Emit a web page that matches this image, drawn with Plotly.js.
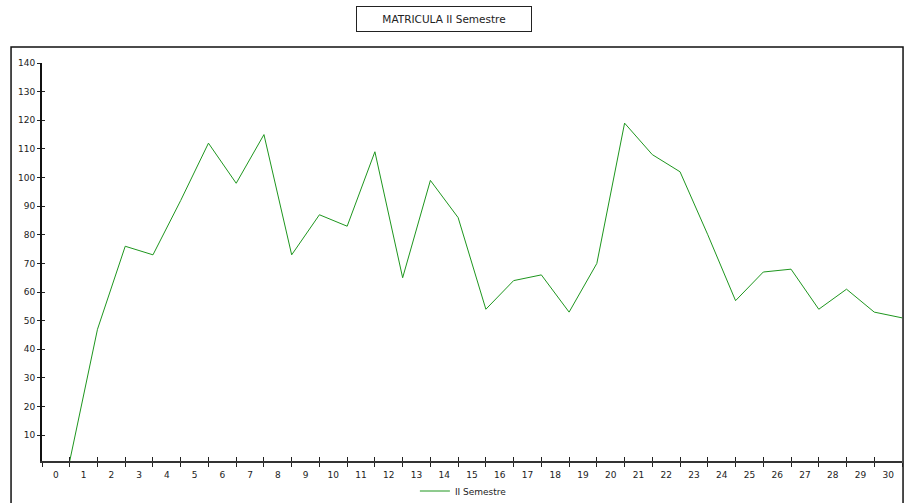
<!DOCTYPE html>
<html>
<head>
<meta charset="utf-8">
<script src="https://cdn.plot.ly/plotly-3.0.1.min.js"></script>
<style>
  html, body { margin: 0; padding: 0; background: #fff; }
  #chart { width: 904px; height: 503px; }
</style>
</head>
<body>
<div id="chart"></div>
<script>
// Día del semestre (etiquetas del eje X)
const dias = [0,1,2,3,4,5,6,7,8,9,10,11,12,13,14,15,16,17,18,19,20,21,22,23,24,25,26,27,28,29,30];
// Matrícula registrada por día
const matricula = [1,47,76,73,92,112,98,115,73,87,83,109,65,99,86,54,64,66,53,70,119,108,102,80,57,67,68,54,61,53,51];
const nombreSerie = "II Semestre";
const tituloGrafico = "MATRICULA II Semestre";
const marcasY = [10,20,30,40,50,60,70,80,90,100,110,120,130,140];

const fuente = "DejaVu Sans, Verdana, sans-serif";
const tinta = "#222";

// Each point sits on the boundary that closes its day's label cell
const xPuntos = dias.map(d => d + 0.5);
const bordes = dias.map(d => d - 0.5).concat([dias[dias.length - 1] + 0.5]);
const rangoX = [bordes[0], bordes[bordes.length - 1]];
const rangoY = [1, 140];

const trazas = [
  {
    x: xPuntos, y: matricula, type: "scatter", mode: "lines",
    name: nombreSerie,
    line: { color: "#1e961e", width: 1 },
    xaxis: "x", yaxis: "y", hoverinfo: "x+y", cliponaxis: false
  },
  { x: [], y: [], xaxis: "x2", yaxis: "y", showlegend: false, hoverinfo: "skip" },
  { x: [], y: [], xaxis: "x3", yaxis: "y", showlegend: false, hoverinfo: "skip" },
  { x: [], y: [], xaxis: "x", yaxis: "y2", showlegend: false, hoverinfo: "skip" }
];

const ejeXBase = {
  range: rangoX, showgrid: false, zeroline: false, fixedrange: true
};

const layout = {
  width: 904, height: 503,
  margin: { l: 42, r: 2, t: 63, b: 42, pad: 0 },
  paper_bgcolor: "#fff", plot_bgcolor: "#fff",
  font: { family: fuente, size: 9, color: tinta },
  showlegend: true,
  legend: {
    orientation: "h", x: 0.49, xanchor: "center",
    yref: "container", y: (503 - 491) / 503, yanchor: "middle",
    font: { family: fuente, size: 9, color: tinta }, itemwidth: 30,
    bgcolor: "rgba(0,0,0,0)"
  },
  // boundary ticks below the axis line, with the axis line itself
  xaxis: Object.assign({}, ejeXBase, {
    tickmode: "array", tickvals: bordes, showticklabels: false,
    ticks: "outside", ticklen: 4, tickwidth: 1, tickcolor: tinta,
    showline: true, linecolor: "#333", linewidth: 2
  }),
  // day labels centred in each cell
  xaxis2: Object.assign({}, ejeXBase, {
    overlaying: "x", side: "bottom",
    tickmode: "array", tickvals: dias, ticktext: dias.map(String),
    ticks: "outside", ticklen: 5, tickcolor: "rgba(0,0,0,0)",
    tickfont: { family: fuente, size: 9, color: tinta },
    showline: false
  }),
  // upper half of the crossing boundary ticks
  xaxis3: Object.assign({}, ejeXBase, {
    overlaying: "x", side: "bottom",
    tickmode: "array", tickvals: bordes, showticklabels: false,
    ticks: "inside", ticklen: 4, tickwidth: 1, tickcolor: tinta,
    showline: false
  }),
  yaxis: {
    range: rangoY, showgrid: false, zeroline: false, fixedrange: true,
    tickmode: "array", tickvals: marcasY, ticktext: marcasY.map(String),
    ticks: "outside", ticklen: 3, tickwidth: 1, tickcolor: tinta,
    tickfont: { family: fuente, size: 9, color: tinta },
    showline: true, linecolor: "#111", linewidth: 2
  },
  yaxis2: {
    overlaying: "y", side: "left",
    range: rangoY, showgrid: false, zeroline: false, fixedrange: true,
    tickmode: "array", tickvals: marcasY, showticklabels: false,
    ticks: "inside", ticklen: 3, tickwidth: 1, tickcolor: tinta,
    showline: false
  },
  shapes: [
    // outer frame around the chart body
    {
      type: "rect", xref: "paper", yref: "paper",
      x0: -0.036, x1: 1.0012, y0: -0.2, y1: (461 - 47) / 398,
      line: { color: "#111", width: 1.5 }, fillcolor: "rgba(0,0,0,0)", layer: "below"
    }
  ],
  annotations: [
    {
      text: tituloGrafico, xref: "paper", yref: "paper",
      x: (444 - 42) / 860, y: (461 - 19.5) / 398, xanchor: "center", yanchor: "middle",
      showarrow: false, font: { family: fuente, size: 10.5, color: tinta },
      bordercolor: "#222", borderwidth: 1, borderpad: 5,
      bgcolor: "#fff", width: 164, height: 14
    }
  ]
};

Plotly.newPlot("chart", trazas, layout, { displayModeBar: false, staticPlot: true });
</script>
</body>
</html>
